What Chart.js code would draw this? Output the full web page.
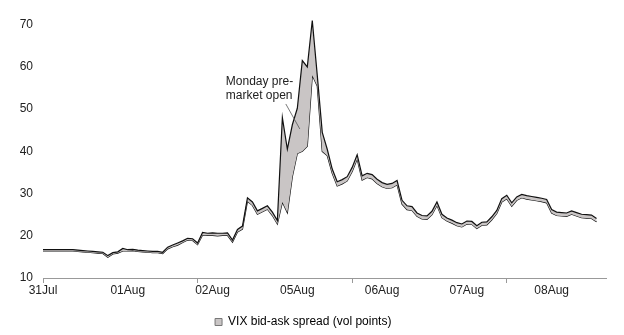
<!DOCTYPE html>
<html>
<head>
<meta charset="utf-8">
<title>VIX bid-ask spread</title>
<script src="https://cdn.jsdelivr.net/npm/chart.js@4.4.1/dist/chart.umd.min.js"></script>
<style>
    html, body { margin: 0; padding: 0; background: #fff; }
    #chart { display: block; }
</style>
</head>
<body>
<canvas id="chart" width="624" height="335"></canvas>
<script>
// Date labels shown on the x axis (one every 17 intraday points)
const dateLabels = ['31Jul', '01Aug', '02Aug', '05Aug', '06Aug', '07Aug', '08Aug'];
const pointsPerLabel = 17;
const pointsPerTick = 31;

// VIX ask (upper line)
const askValues = [
    16.7, 16.7, 16.7, 16.7, 16.7, 16.7, 16.7, 16.6, 16.5, 16.4,
    16.3, 16.2, 16.1, 15.3, 16.0, 16.2, 17.0, 16.7, 16.8, 16.6,
    16.5, 16.4, 16.3, 16.3, 16.1, 17.3, 17.8, 18.3, 18.8, 19.4,
    19.3, 18.3, 20.8, 20.6, 20.7, 20.6, 20.6, 20.7, 19.0, 21.5,
    22.3, 29.0, 28.0, 25.9, 26.5, 27.1, 25.6, 23.6, 48.0, 40.5,
    46.3, 50.2, 61.5, 60.0, 71.0, 58.0, 44.5, 40.5, 35.8, 32.8,
    33.3, 34.0, 36.2, 39.2, 34.2, 34.8, 34.5, 33.4, 32.6, 32.2,
    32.4, 33.1, 28.4, 27.1, 26.9, 25.4, 24.8, 24.7, 25.8, 28.0,
    25.1, 24.2, 23.7, 23.1, 22.8, 23.5, 23.4, 22.4, 23.2, 23.3,
    24.5, 26.0, 28.8, 29.6, 27.8, 29.2, 29.8, 29.5, 29.3, 29.1,
    28.9, 28.6, 26.2, 25.6, 25.5, 25.4, 25.9, 25.5, 25.1, 25.0,
    24.9, 24.1, null, null
];

// VIX bid (lower line)
const bidValues = [
    16.4, 16.4, 16.4, 16.4, 16.4, 16.4, 16.4, 16.3, 16.2, 16.1,
    16.0, 15.9, 15.8, 14.9, 15.7, 15.9, 16.4, 16.4, 16.5, 16.3,
    16.2, 16.1, 16.0, 16.0, 15.8, 16.9, 17.4, 17.8, 18.4, 19.0,
    18.9, 17.9, 20.2, 20.1, 20.1, 20.0, 20.1, 20.1, 18.5, 20.9,
    21.6, 28.2, 27.2, 25.1, 25.7, 26.3, 24.8, 22.8, 28.0, 25.5,
    34.0, 39.5, 40.0, 41.2, 58.0, 55.5, 40.0, 39.0, 34.8, 31.8,
    32.3, 33.0, 35.2, 38.2, 33.2, 33.8, 33.5, 32.4, 31.6, 31.2,
    31.4, 32.1, 27.5, 26.2, 26.0, 24.6, 24.0, 23.9, 25.0, 27.2,
    24.3, 23.5, 23.0, 22.4, 22.1, 22.8, 22.7, 21.7, 22.5, 22.6,
    23.8, 25.3, 28.0, 28.8, 27.0, 28.4, 29.0, 28.7, 28.5, 28.3,
    28.1, 27.8, 25.4, 24.8, 24.7, 24.6, 25.1, 24.7, 24.3, 24.2,
    24.1, 23.3, null, null
];

// Annotation
const noteLines = ['Monday pre-', 'market open'];
const notePoint = { index: 51.5, value: 45.3 };

const categories = askValues.map((v, i) =>
    i % pointsPerLabel === 0 && dateLabels[i / pointsPerLabel] ? dateLabels[i / pointsPerLabel] : '');

const fontFamily = '"Liberation Sans", Arial, Helvetica, sans-serif';
Chart.defaults.font.family = fontFamily;
Chart.defaults.font.size = 12;
Chart.defaults.color = '#222';

// Draw the "Monday pre-market open" label with its pointer line
const notePlugin = {
    id: 'note',
    afterDatasetsDraw(chart) {
        const ctx = chart.ctx;
        const x = chart.scales.x.getPixelForValue(notePoint.index);
        const y = chart.scales.y.getPixelForValue(notePoint.value);
        ctx.save();
        ctx.strokeStyle = '#555';
        ctx.lineWidth = 0.8;
        ctx.beginPath();
        ctx.moveTo(x - 14, y - 25);
        ctx.lineTo(x, y);
        ctx.stroke();
        ctx.fillStyle = '#222';
        ctx.font = '12px ' + fontFamily;
        ctx.textBaseline = 'middle';
        ctx.textAlign = 'left';
        noteLines.forEach((t, k) => ctx.fillText(t, x - 74, y - 47 + k * 14));
        ctx.restore();
    }
};

const chart = new Chart(document.getElementById('chart'), {
    type: 'line',
    data: {
        labels: categories,
        datasets: [{
            label: 'Ask',
            data: askValues,
            borderColor: '#111',
            borderWidth: 1.2,
            backgroundColor: '#c9c5c5',
            fill: '+1',
            pointRadius: 0,
            tension: 0
        }, {
            label: 'Bid',
            data: bidValues,
            borderColor: '#111',
            borderWidth: 1.2,
            fill: false,
            pointRadius: 0,
            tension: 0
        }]
    },
    options: {
        responsive: false,
        animation: false,
        devicePixelRatio: 1,
        layout: {
            padding: { top: 3.6, right: 17.5, bottom: -3, left: 0 }
        },
        scales: {
            x: {
                offset: false,
                grid: {
                    drawOnChartArea: false,
                    drawTicks: true,
                    tickLength: 5,
                    color: (c) => c.index % pointsPerTick === 0 ? '#999' : 'rgba(0,0,0,0)'
                },
                border: { display: true, color: '#999', width: 1 },
                ticks: {
                    autoSkip: false,
                    maxRotation: 0,
                    minRotation: 0,
                    padding: 0,
                    color: '#222',
                    font: { size: 12 }
                },
                afterFit(scale) {
                    scale.height = 30;
                    scale.paddingLeft = 0;
                    scale.paddingRight = 0;
                }
            },
            y: {
                min: 10,
                max: 75,
                grid: { display: false, drawTicks: false },
                border: { display: false },
                ticks: {
                    stepSize: 10,
                    padding: 10,
                    color: '#222',
                    font: { size: 12 }
                },
                afterBuildTicks(scale) {
                    scale.ticks = scale.ticks.filter(t => t.value % 10 === 0);
                },
                afterFit(scale) {
                    scale.width = 43;
                    scale.paddingTop = 0;
                    scale.paddingBottom = 0;
                }
            }
        },
        plugins: {
            legend: {
                position: 'bottom',
                labels: {
                    boxWidth: 7,
                    boxHeight: 7,
                    padding: 8,
                    color: '#222',
                    font: { size: 12 },
                    generateLabels: () => [{
                        text: 'VIX bid-ask spread (vol points)',
                        fillStyle: '#c9c5c5',
                        strokeStyle: '#777',
                        lineWidth: 1,
                        datasetIndex: 0
                    }]
                }
            },
            tooltip: { enabled: false }
        }
    },
    plugins: [notePlugin]
});
</script>
</body>
</html>
